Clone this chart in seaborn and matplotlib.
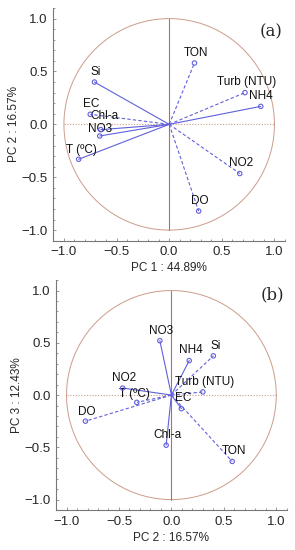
import numpy as np
import pandas as pd
import seaborn as sns
from matplotlib import pyplot as plt
from matplotlib.ticker import MultipleLocator

# variable names and loadings
variables = ['TON', 'Si', 'Turb (NTU)', 'NH4', 'EC', 'Chl-a', 'NO3', 'T (\u00baC)', 'NO2', 'DO']
pc1 = [0.24, -0.71, 0.72, 0.87, -0.75, -0.65, -0.66, -0.86, 0.67, 0.28]
pc2 = [0.58, 0.40, 0.30, 0.17, 0.095, -0.05, -0.11, -0.33, -0.465, -0.82]
pc3 = [-0.635, 0.375, 0.03, 0.33, -0.13, -0.48, 0.52, -0.07, 0.067, -0.25]
dashed_a = [True, False, True, False, True, False, False, False, True, True]
dashed_b = [True, True, True, False, False, False, False, True, False, True]

df = pd.DataFrame({'var': variables, 'pc1': pc1, 'pc2': pc2, 'pc3': pc3})

# label offsets in points (layout only)
off_a = {'TON': (1, 3), 'Si': (1, 3), 'Turb (NTU)': (1, 3), 'NH4': (0, 3),
         'EC': (1, 3), 'Chl-a': (3, 5.5), 'NO3': (0, 0.5), 'T (\u00baC)': (2, 2),
         'NO2': (1, 3), 'DO': (1, 3)}
off_b = {'TON': (1, 3), 'Si': (2, 3), 'Turb (NTU)': (1, 3), 'NH4': (1, 3),
         'EC': (1, 3), 'Chl-a': (1, 3), 'NO3': (1, 3), 'T (\u00baC)': (-2, 2),
         'NO2': (1, 3), 'DO': (1, 2)}

sns.set_style('white')
plt.rcParams['font.family'] = ['Liberation Sans', 'DejaVu Sans']

fig = plt.figure(figsize=(2.95, 5.5), dpi=100)
ax1 = fig.add_axes([0.181, 0.5624, 0.785, 0.423])
ax2 = fig.add_axes([0.19, 0.0727, 0.782, 0.418])

line_c = '#6060dc'
ref_c = '#cc9c8a'


def draw_panel(ax, xcol, ycol, dashed, offs, xlabel, ylabel, tag, tag_y):
    t = np.linspace(0, 2 * np.pi, 300)
    ax.plot(np.cos(t), np.sin(t), color=ref_c, lw=0.7, zorder=1)
    ax.plot([0, 0], [-1, 1], color='#b07060', lw=0.8, zorder=1)
    ax.plot([-1, 1], [0, 0], color=ref_c, lw=0.8, ls=(0, (1, 1.5)), zorder=1)
    for i, row in df.iterrows():
        ax.plot([0, row[xcol]], [0, row[ycol]], color=line_c, lw=0.8,
                ls=(0, (3, 2)) if dashed[i] else '-', zorder=2)
        ax.annotate(row['var'], (row[xcol], row[ycol]), xytext=offs[row['var']],
                    textcoords='offset points', ha='center', va='bottom',
                    fontsize=8.5, color='#111111')
    sns.scatterplot(data=df, x=xcol, y=ycol, ax=ax, marker='o', s=10,
                    facecolor='none', edgecolor=line_c, linewidth=0.8, zorder=3)
    ax.set_xlim(-1.1, 1.1)
    ax.set_ylim(-1.1, 1.1)
    ax.set_xticks([-1, -0.5, 0, 0.5, 1])
    ax.set_yticks([-1, -0.5, 0, 0.5, 1])
    ax.xaxis.set_minor_locator(MultipleLocator(0.1))
    ax.yaxis.set_minor_locator(MultipleLocator(0.1))
    ax.tick_params(which='both', direction='in', length=2, width=0.6,
                   color='#888888', labelsize=9.5, pad=4,
                   bottom=True, left=True)
    ax.tick_params(which='minor', length=1.2)
    sns.despine(ax=ax)
    for s in ['left', 'bottom']:
        ax.spines[s].set_color('#777777')
        ax.spines[s].set_linewidth(0.8)
    ax.set_xlabel(xlabel, fontsize=8.5, labelpad=3)
    ax.set_ylabel(ylabel, fontsize=8.5, labelpad=1)
    ax.text(0.99, tag_y, tag, transform=ax.transAxes, ha='right', va='center',
            fontsize=12, family=['DejaVu Serif'])


draw_panel(ax1, 'pc1', 'pc2', dashed_a, off_a, 'PC 1 : 44.89%', 'PC 2 : 16.57%', '(a)', 0.897)
draw_panel(ax2, 'pc2', 'pc3', dashed_b, off_b, 'PC 2 : 16.57%', 'PC 3 : 12.43%', '(b)', 0.935)

fig.savefig('out.png', dpi=100)
